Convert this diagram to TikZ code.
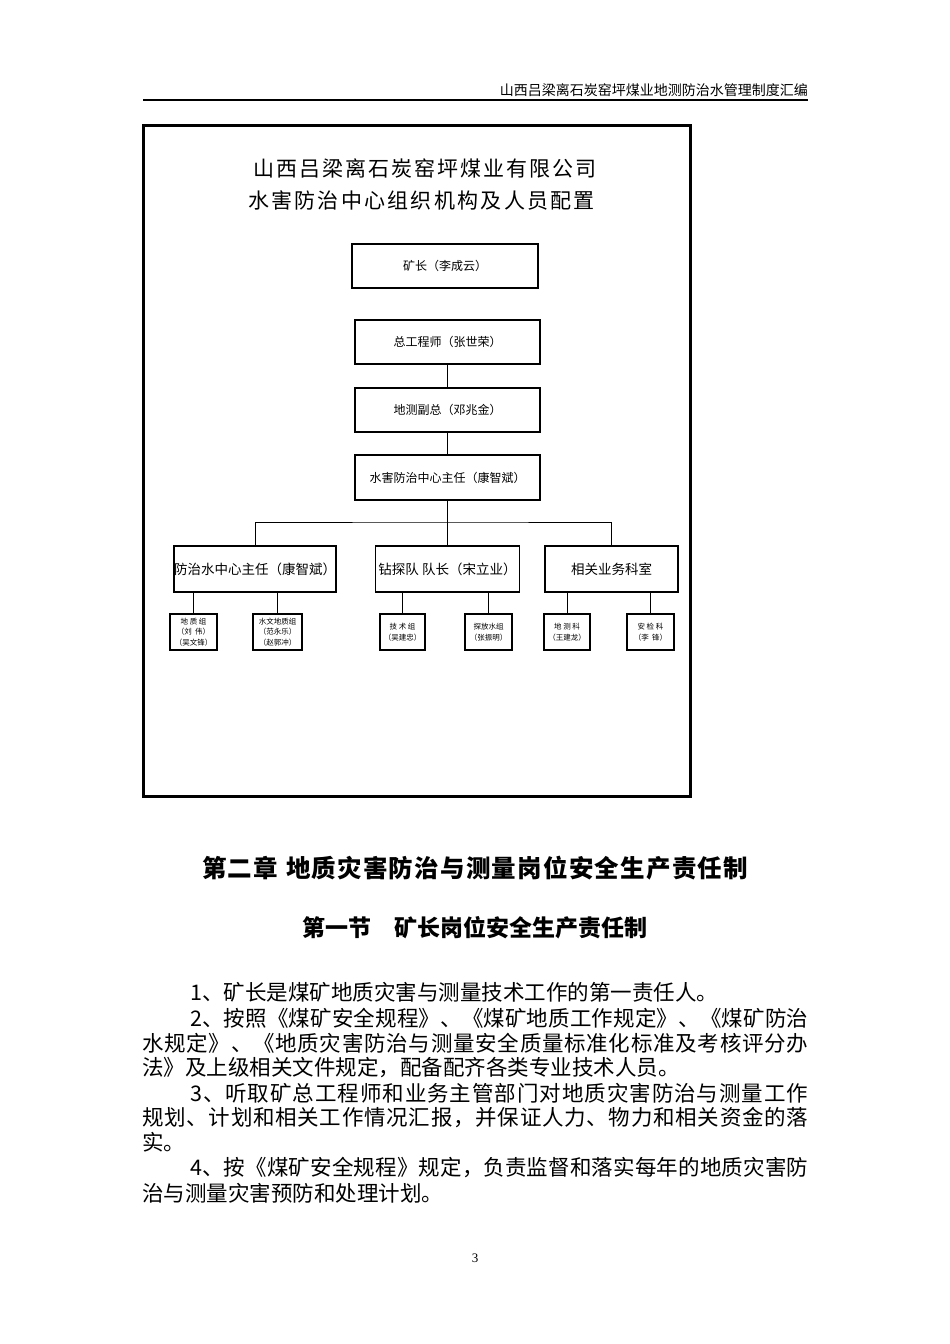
\documentclass[tikz,border=0pt]{standalone}
\usepackage{fontspec}
\setmainfont{Liberation Serif}
\newfontfamily\cjk{Noto Sans CJK SC}
\def\sprloop#1{\ifx\relax#1\else#1\hfil\expandafter\sprloop\fi}
\newcommand\spr[2]{\makebox[#1pt][s]{\sprloop#2\relax\unskip}}
\newcommand\fs[1]{\fontsize{#1}{#1}\selectfont}
\begin{document}
\begin{tikzpicture}[x=1pt,y=-1pt,
  bigbox/.style={draw, line width=1.2pt, inner sep=0pt, font=\cjk\fs{12}},
  midbox/.style={draw, line width=1.2pt, inner sep=0pt, minimum height=46pt, font=\cjk\fs{13.5}},
  smallbox/.style={draw, line width=1.1pt, inner sep=0pt, minimum height=36pt,
     font=\cjk\fontsize{7.5}{10.5}\selectfont, align=center},
  conn/.style={line width=1pt},
  txt/.style={inner sep=0pt, anchor=west, font=\cjk\fs{21.5}}]
\useasboundingbox (0,0) rectangle (950,1344);
\fill[white] (0,0) rectangle (950,1344);
% header
\node[inner sep=0pt, anchor=east, font=\cjk\fs{14}] (hdr) at (808,90) {山西吕梁离石炭窑坪煤业地测防治水管理制度汇编};
\draw[line width=2pt] (143,100) -- (808,100);
% frame
\draw[line width=3pt] (143,125) rectangle (690,796);
% title
\node[inner sep=0pt, font=\cjk\fs{21}] (t1) at (425,168) {\spr{344}{山西吕梁离石炭窑坪煤业有限公司}};
\node[inner sep=0pt, font=\cjk\fs{21}] (t2) at (421.5,200) {\spr{347}{水害防治中心组织机构及人员配置}};
% top chain
\node[bigbox, minimum width=186pt, minimum height=44pt] (b1) at (445,266) {矿长（李成云）};
\node[bigbox, minimum width=185pt, minimum height=44pt] (b2) at (447.5,342) {总工程师（张世荣）};
\node[bigbox, minimum width=185pt, minimum height=44pt] (b3) at (447.5,410) {地测副总（邓兆金）};
\node[bigbox, minimum width=185pt, minimum height=45pt] (b4) at (447.5,477.5) {水害防治中心主任（康智斌）};
\coordinate (hub) at (447.5,522);
\draw[conn] (b2.south) -- (b3.north);
\draw[conn] (b3.south) -- (b4.north);
\draw[conn] (b4.south) -- (hub);
% middle level
\node[midbox, minimum width=154pt] (mA) at (255,569) {防治水中心主任（康智斌）};
\node[midbox, minimum width=144pt] (mB) at (447.5,569) {钻探队 队长（宋立业）};
\node[midbox, minimum width=133pt] (mC) at (611.5,569) {相关业务科室};
\draw[conn] (mA.north) |- (hub) -| (mC.north);
\draw[conn] (hub) -- (mB.north);
% bottom level
\node[smallbox, minimum width=47pt] (sA1) at (193.5,632) {地\ 质\ 组\\（刘\ \ 伟）\\（吴文锋）};
\node[smallbox, minimum width=49pt] (sA2) at (277.5,632) {水文地质组\\（范永乐）\\（赵郭冲）};
\node[smallbox, minimum width=45pt] (sB1) at (402.5,632) {技\ 术\ 组\\（吴建忠）};
\node[smallbox, minimum width=47pt] (sB2) at (488.5,632) {探放水组\\（张振明）};
\node[smallbox, minimum width=46pt] (sC1) at (567,632) {地\ 测\ 科\\（王建龙）};
\node[smallbox, minimum width=47pt] (sC2) at (650.5,632) {安\ 检\ 科\\（李\ \ 锋）};
\foreach \s/\m in {sA1/mA, sA2/mA, sB1/mB, sB2/mB, sC1/mC, sC2/mC}
  \draw[conn] (\s.north) -- (\s.north |- \m.south);
% headings
\node[inner sep=0pt, font=\cjk\bfseries\fs{24.5}] (h1) at (475,868) {\spr{546}{第二章\ 地质灾害防治与测量岗位安全生产责任制}};
\node[inner sep=0pt, font=\cjk\bfseries\fs{23}] (h2) at (475,928) {第一节　矿长岗位安全生产责任制};
% body
\node[txt] (l1) at (190,992) {1、矿长是煤矿地质灾害与测量技术工作的第一责任人。};
\node[txt] (l2) at (190,1018) {\spr{618}{2、按照《煤矿安全规程》、《煤矿地质工作规定》、《煤矿防治}};
\node[txt] (l3) at (142,1043) {\spr{666}{水规定》、《地质灾害防治与测量安全质量标准化标准及考核评分办}};
\node[txt] (l4) at (142,1068) {法》及上级相关文件规定，配备配齐各类专业技术人员。};
\node[txt] (l5) at (190,1093) {\spr{618}{3、听取矿总工程师和业务主管部门对地质灾害防治与测量工作}};
\node[txt] (l6) at (142,1118) {\spr{666}{规划、计划和相关工作情况汇报，并保证人力、物力和相关资金的落}};
\node[txt] (l7) at (142,1142) {实。};
\node[txt] (l8) at (190,1167) {\spr{618}{4、按《煤矿安全规程》规定，负责监督和落实每年的地质灾害防}};
\node[txt] (l9) at (142,1193) {治与测量灾害预防和处理计划。};
% page number
\node[inner sep=0pt, font=\fs{13}] (pg) at (475,1258) {3};
\end{tikzpicture}
\end{document}
